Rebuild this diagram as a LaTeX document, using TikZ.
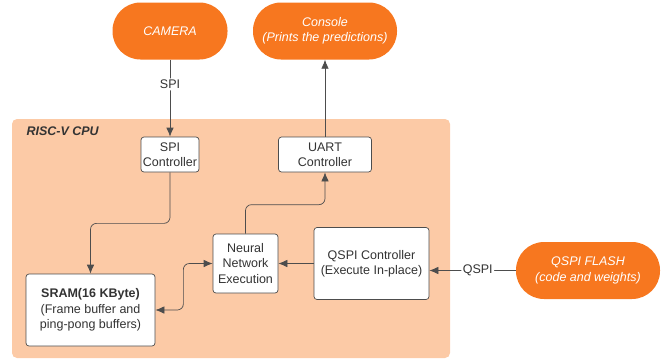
\documentclass[tikz,border=0pt]{standalone}
\usepackage{fontspec}
\setmainfont{Liberation Sans}
\usetikzlibrary{arrows.meta}
\definecolor{pillorange}{RGB}{247,119,31}
\definecolor{cpupeach}{RGB}{252,202,166}
\definecolor{wiregray}{RGB}{77,77,77}
\tikzset{
	block/.style = {draw=wiregray, fill=white, rounded corners=3pt, align=center, inner sep=0pt, text=black!80, font=\fontsize{12.5}{15.3}\selectfont, line width=0.7pt},
	device/.style = {fill=pillorange, rounded corners=28pt, align=center, inner sep=0pt, text=white, font=\fontsize{12.5}{15.3}\selectfont\itshape, minimum height=57pt},
	wire/.style = {draw=wiregray, line width=0.7pt, rounded corners=6pt},
	feed/.style = {wire, -{Latex[length=9pt,width=7.5pt]}},
	wirelabel/.style = {fill=white, inner sep=1.5pt, text=black!80, font=\fontsize{12.5}{15.3}\selectfont}
}
\begin{document}
\begin{tikzpicture}[x=1pt, y=-1pt]
	\useasboundingbox (0,0) rectangle (661,360);
	% cpu area
	\node [fill=cpupeach, rounded corners=5pt, minimum width=438pt, minimum height=239pt, inner sep=0pt] (cpu) at (231,238.5) {};
	\node [anchor=west, text=black!80, font=\fontsize{12.5}{15.3}\selectfont\bfseries\itshape] (cpulabel) at (23,131) {RISC-V CPU};
	% outside devices
	\node [device, minimum width=115pt] (camera) at (170,31) {CAMERA};
	\node [device, minimum width=144pt] (console) at (325,31) {Console\\(Prints the predictions)};
	\node [device, minimum width=144pt] (flash) at (588,270.5) {QSPI FLASH\\(code and weights)};
	% blocks inside the cpu
	\node [block, minimum width=58pt, minimum height=35pt] (spictrl) at (170,154.5) {SPI\\Controller};
	\node [block, minimum width=93pt, minimum height=35pt] (uartctrl) at (325,154.5) {UART\\Controller};
	\node [block, minimum width=65pt, minimum height=59pt] (nnexec) at (245.5,263.5) {Neural\\Network\\Execution};
	\node [block, minimum width=115pt, minimum height=72pt] (qspictrl) at (371.5,263.5) {QSPI Controller\\(Execute In-place)};
	\node [block, minimum width=129pt, minimum height=72pt] (sram) at (90.5,310) {\textbf{SRAM(16 KByte)}\\(Frame buffer and\\ping-pong buffers)};
	% connectors
	\draw [feed] (camera) -- node [wirelabel, pos=0.32] {SPI} (spictrl);
	\draw [feed] (uartctrl) -- (console);
	\draw [feed] (spictrl.south) -- ++(0,51) -| (sram.north);
	\draw [feed] (nnexec.north) -- ++(0,-29) -| (uartctrl.south);
	\draw [feed] (qspictrl) -- (nnexec);
	\draw [feed] (flash.west) -- node [wirelabel, pos=0.44] {QSPI} (flash.west -| qspictrl.east);
	\draw [wire, {Latex[length=9pt,width=7.5pt]}-{Latex[length=9pt,width=7.5pt]}] (sram.east) -- ++(28,0) |- (nnexec.west);
\end{tikzpicture}
\end{document}
